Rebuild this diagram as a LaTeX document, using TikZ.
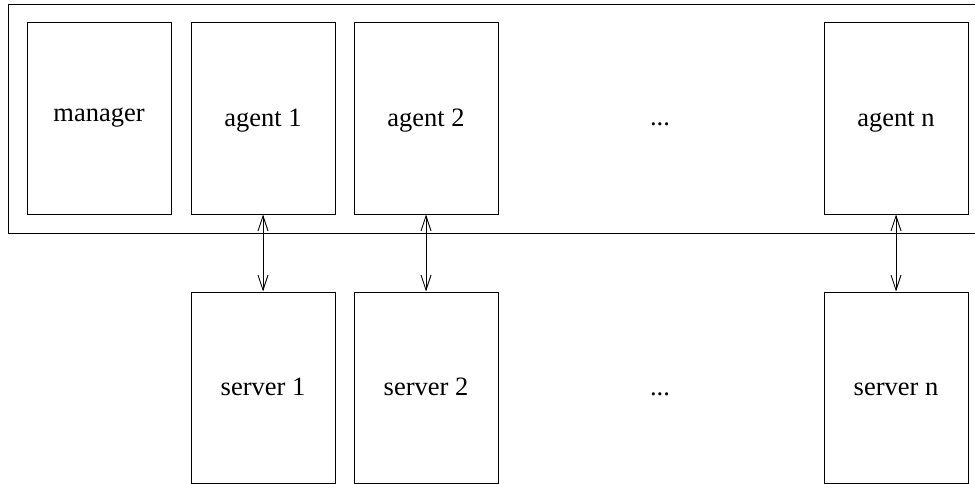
\documentclass[tikz,border=0pt]{standalone}
\usepackage{fontspec}
\setmainfont{Liberation Serif}
\usetikzlibrary{arrows.meta}
\begin{document}
\begin{tikzpicture}[x=1pt,y=-1pt,
  box/.style={draw, line width=1pt, minimum width=144pt, minimum height=191pt,
    inner sep=0pt, text height=18.5pt, text depth=2.5pt,
    font=\fontsize{26.5}{30}\selectfont},
  link/.style={line width=0.9pt, {Straight Barb[length=15pt,width=10pt]}-{Straight Barb[length=15pt,width=10pt]}},
  dots/.style={anchor=base, font=\fontsize{26.5}{30}\selectfont}]
  \useasboundingbox (0,0) rectangle (975,484);
  % enclosing frame of the manager and agents
  \draw[line width=1pt] (8.5,4.5) rectangle (990,233.5);
  % top row
  \node[box, text depth=11.5pt] (mgr) at (99,118.5) {manager};
  \node[box] (a1)  at (263,118.5) {agent 1};
  \node[box] (a2)  at (426,118.5) {agent 2};
  \node[dots] (d1) at (660,125.5) {...};
  \node[box] (an)  at (896,118.5) {agent n};
  % bottom row
  \node[box] (s1)  at (263,387.5) {server 1};
  \node[box] (s2)  at (426,387.5) {server 2};
  \node[dots] (d2) at (660,395.5) {...};
  \node[box] (sn)  at (896,387.5) {server n};
  % agent <-> server links
  \draw[link] (a1.south) -- (s1.north);
  \draw[link] (a2.south) -- (s2.north);
  \draw[link] (an.south) -- (sn.north);
\end{tikzpicture}
\end{document}
